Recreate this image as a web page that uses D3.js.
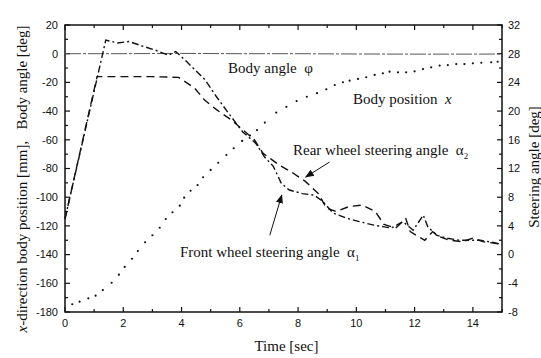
<!DOCTYPE html>
<html>
<head>
<meta charset="utf-8">
<script src="https://cdn.jsdelivr.net/npm/d3@7"></script>
<style>
  body { margin: 0; background: #fff; }
  svg { display: block; }
  .tick-label { font-family: "Liberation Sans", Arial, sans-serif; font-size: 11px; fill: #111; }
  .serif { font-family: "Liberation Serif", "Times New Roman", serif; font-size: 15px; fill: #111; }
</style>
</head>
<body>
<svg id="chart" width="541" height="358"></svg>
<script>
// time ticks and axis ranges
const timeTicks = [0, 2, 4, 6, 8, 10, 12, 14];
const leftTicks = [20, 0, -20, -40, -60, -80, -100, -120, -140, -160, -180];
const rightTicks = [32, 28, 24, 20, 16, 12, 8, 4, 0, -4, -8];

// body angle phi [deg] (left axis)
const phiTime = [0, 2, 4, 6, 8, 10, 12, 14, 15];
const phiValue = [0, 0, 0.2, 0, 0, -0.2, -0.3, -0.3, -0.2];

// x-direction body position [mm] (left axis)
const posTime = [0.25, 0.5, 0.8, 1.05, 1.3, 1.6, 1.85, 2.05, 2.3, 2.5,
  2.75, 3.0, 3.25, 3.46, 3.69, 3.94, 4.09, 4.31, 4.55, 4.74,
  5.0, 5.26, 5.54, 5.79, 6.08, 6.35, 6.59, 6.86, 7.25, 7.6,
  7.95, 8.3, 8.65, 8.97, 9.26, 9.54, 9.77, 10.06, 10.34, 10.63,
  10.91, 11.14, 11.43, 11.71, 12.0, 12.29, 12.57, 12.86, 13.14, 13.43,
  13.71, 14.0, 14.29, 14.63, 14.85];
const posValue = [-174.6, -172.8, -170.5, -168.6, -164.7, -159.6, -154, -148.6, -142.9, -137.5,
  -131.4, -126.5, -121.3, -115.2, -110.5, -105.9, -100.3, -95.5, -91.5, -86.1,
  -81, -76, -70.6, -65.9, -60.8, -57, -53.2, -48, -41, -37,
  -33, -30, -27.5, -24.8, -21.8, -19.9, -18.8, -17.6, -16.4, -14.8,
  -13.7, -12.5, -13, -13, -12.3, -10.7, -9.5, -8.3, -7.9, -7.2,
  -7.2, -6.7, -6.3, -6, -5.6];

// front wheel steering angle alpha1 [deg] (right axis)
const frontTime = [0, 1.4, 1.8, 2.2, 2.7, 3.1, 3.55, 3.8, 4.15,
  4.5, 4.8, 5.2, 5.65, 6.1, 6.55, 6.85, 7.15, 7.43, 7.7,
  8.15, 8.55, 8.85, 9.2, 9.65, 10.1, 10.6, 10.9, 11.2, 11.6,
  11.95, 12.3, 12.45, 12.75, 13.1, 13.55, 13.9, 14.25, 14.7, 15];
const frontValue = [5, 29.9, 29.5, 29.7, 29, 28.5, 27.8, 28.3, 27,
  25.6, 24.4, 22, 19.5, 17.1, 15.5, 13.6, 12.3, 9.9, 9,
  8.5, 8.3, 7.4, 5.8, 5.1, 4.6, 4.1, 3.9, 3.7, 4.6,
  3.4, 5.5, 3.9, 2.7, 2.3, 2.0, 2.0, 2.0, 1.7, 1.4];

// rear wheel steering angle alpha2 [deg] (right axis)
const rearTime = [0, 1.1, 2, 3, 3.9, 4.45, 4.8, 5.2, 5.7, 6.1,
  6.5, 6.8, 7.35, 7.85, 8.25, 8.7, 8.97, 9.3, 9.75, 10.2,
  10.65, 10.95, 11.35, 11.7, 11.85, 12.35, 12.62, 12.86, 13.2, 13.65,
  14.0, 14.35, 14.7, 15];
const rearValue = [5, 24.8, 24.8, 24.8, 24.7, 23.2, 21.5, 20.2, 18.8, 17.4,
  16, 14.1, 12.5, 11.3, 10.2, 8.5, 6.5, 6, 6.7, 6.9,
  6, 4.2, 3.7, 5, 3.2, 2.0, 3.2, 2.5, 2.0, 1.8,
  2.3, 1.8, 1.6, 1.4];

const svg = d3.select('#chart');
const margin = { top: 25, right: 39, bottom: 46, left: 65 };
const W = 541, H = 358;
const x0 = margin.left, x1 = W - margin.right, y0 = margin.top, y1 = H - margin.bottom;

const x = d3.scaleLinear().domain([0, 15]).range([x0, x1]);
const yL = d3.scaleLinear().domain([-180, 20]).range([y1, y0]);
const yR = d3.scaleLinear().domain([-8, 32]).range([y1, y0]);

const zip = (ts, vs) => ts.map((t, i) => [t, vs[i]]);

// ticks (inward)
const tickG = svg.append('g').attr('stroke', '#111').attr('stroke-width', 1.2);
d3.range(0, 15.01, 1).forEach(t => {
  const len = t % 2 === 0 ? 5 : 3;
  tickG.append('line').attr('x1', x(t)).attr('x2', x(t)).attr('y1', y1).attr('y2', y1 - len);
  tickG.append('line').attr('x1', x(t)).attr('x2', x(t)).attr('y1', y0).attr('y2', y0 + len);
});
d3.range(-180, 20.01, 10).forEach(v => {
  const len = v % 20 === 0 ? 5 : 3;
  tickG.append('line').attr('x1', x0).attr('x2', x0 + len).attr('y1', yL(v)).attr('y2', yL(v));
});
d3.range(-8, 32.01, 2).forEach(v => {
  const len = v % 4 === 0 ? 5 : 3;
  tickG.append('line').attr('x1', x1).attr('x2', x1 - len).attr('y1', yR(v)).attr('y2', yR(v));
});

// tick labels
svg.selectAll('.xl').data(timeTicks).join('text').attr('class', 'tick-label')
  .attr('x', d => x(d)).attr('y', y1 + 15).attr('text-anchor', 'middle').text(d => d);
svg.selectAll('.ll').data(leftTicks).join('text').attr('class', 'tick-label')
  .attr('x', x0 - 7).attr('y', d => yL(d)).attr('dy', '0.35em').attr('text-anchor', 'end').text(d => d);
svg.selectAll('.rl').data(rightTicks).join('text').attr('class', 'tick-label')
  .attr('x', x1 + 6).attr('y', d => yR(d)).attr('dy', '0.35em').attr('text-anchor', 'start').text(d => d);

// frame
svg.append('rect').attr('x', x0).attr('y', y0).attr('width', x1 - x0).attr('height', y1 - y0)
  .attr('fill', 'none').attr('stroke', '#111').attr('stroke-width', 1.5);

// curves
const lineL = d3.line().x(d => x(d[0])).y(d => yL(d[1]));
const lineR = d3.line().x(d => x(d[0])).y(d => yR(d[1]));

svg.append('path').attr('d', lineL(zip(phiTime, phiValue)))
  .attr('fill', 'none').attr('stroke', '#555').attr('stroke-width', 1)
  .attr('stroke-dasharray', '16,2,3,2');

svg.append('path').attr('d', lineR(zip(rearTime, rearValue)))
  .attr('fill', 'none').attr('stroke', '#111').attr('stroke-width', 1.4)
  .attr('stroke-dasharray', '8,5');

svg.append('path').attr('d', lineR(zip(frontTime, frontValue)))
  .attr('fill', 'none').attr('stroke', '#111').attr('stroke-width', 1.4)
  .attr('stroke-dasharray', '7,3,2,3');

svg.append('g').selectAll('circle').data(zip(posTime, posValue)).join('circle')
  .attr('cx', d => x(d[0])).attr('cy', d => yL(d[1])).attr('r', 1.1).attr('fill', '#111');

// arrows
svg.append('defs').append('marker').attr('id', 'ah').attr('viewBox', '0 0 10 10')
  .attr('refX', 9).attr('refY', 5).attr('markerWidth', 9).attr('markerHeight', 9)
  .attr('markerUnits', 'userSpaceOnUse').attr('orient', 'auto')
  .append('path').attr('d', 'M0,1 L10,5 L0,9 Z').attr('fill', '#111');

const arrows = [
  { from: [9.08, 12.9], to: [8.26, 10.8] },
  { from: [7.03, 2.7], to: [7.44, 8.3] }
];
arrows.forEach(a => {
  svg.append('line').attr('x1', x(a.from[0])).attr('y1', yR(a.from[1]))
    .attr('x2', x(a.to[0])).attr('y2', yR(a.to[1]))
    .attr('stroke', '#111').attr('stroke-width', 1).attr('marker-end', 'url(#ah)');
});

// annotations
const t1 = svg.append('text').attr('class', 'serif').attr('x', 228).attr('y', 73);
t1.append('tspan').text('Body angle\u00a0\u00a0φ');

const t2 = svg.append('text').attr('class', 'serif').attr('x', 353).attr('y', 104);
t2.append('tspan').text('Body position\u00a0\u00a0');
t2.append('tspan').attr('font-style', 'italic').text('x');

const t3 = svg.append('text').attr('class', 'serif').attr('x', 293).attr('y', 155);
t3.append('tspan').text('Rear wheel steering angle\u00a0\u00a0α');
t3.append('tspan').attr('font-size', '9px').attr('dy', 4).text('2');

const t4 = svg.append('text').attr('class', 'serif').attr('x', 180).attr('y', 257);
t4.append('tspan').text('Front wheel steering angle\u00a0\u00a0α');
t4.append('tspan').attr('font-size', '9px').attr('dy', 4).text('1');

// axis titles
svg.append('text').attr('class', 'serif').attr('x', (x0 + x1) / 2 + 3).attr('y', 351)
  .attr('text-anchor', 'middle').text('Time [sec]');

const yt = svg.append('text').attr('class', 'serif').attr('text-anchor', 'middle')
  .attr('transform', 'translate(27,179) rotate(-90)');
yt.append('tspan').attr('font-style', 'italic').text('x');
yt.append('tspan').text('-direction body position [mm],\u00a0\u00a0 Body angle [deg]');

svg.append('text').attr('class', 'serif').attr('text-anchor', 'middle')
  .attr('transform', 'translate(539,167) rotate(-90)').text('Steering angle [deg]');
</script>
</body>
</html>
